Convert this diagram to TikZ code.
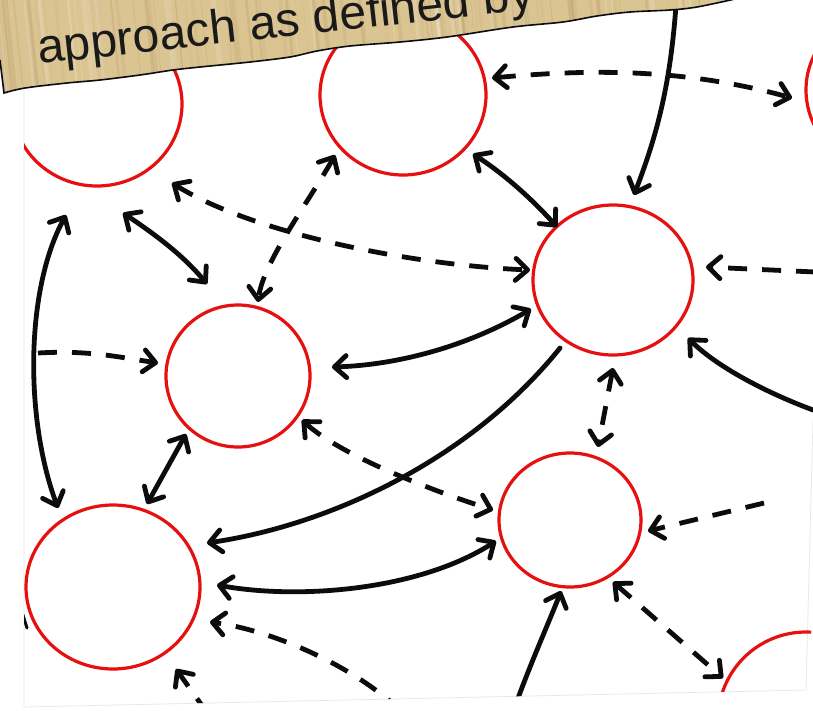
\documentclass[tikz,border=0pt]{standalone}
\usepackage{fontspec}
\setmainfont{Liberation Sans}
\usetikzlibrary{arrows.meta,shapes.geometric,calc}

\definecolor{ringred}{RGB}{230,16,16}
\definecolor{parch}{RGB}{218,197,146}
\definecolor{inkc}{RGB}{12,12,12}
\definecolor{textc}{RGB}{26,26,26}

\tikzset{
  ring/.style={draw=ringred, line width=3.2pt, ellipse, inner sep=0pt},
  tipv/.tip={Straight Barb[length=12pt,width=22pt,round]},
  solidarrow/.style={draw=inkc, line width=4.8pt, line cap=round},
  dasharrow/.style={draw=inkc, line width=4.8pt, dash pattern=on 19pt off 15pt},
  edgeline/.style={draw=gray!18, line width=0.8pt},
}

\begin{document}
\begin{tikzpicture}[x=1pt,y=-1pt]
\useasboundingbox (0,0) rectangle (813,710);
\fill[white] (0,0) rectangle (813,710);

% faint photo edges
\draw[edgeline] (24,90) -- (24,707) -- (806,690) -- (813,420);

\begin{scope}
\clip (24,-10) -- (830,-10) -- (830,420) -- (806,690) -- (24,707) -- cycle;

% circles
\node[ring, minimum width=170pt, minimum height=164pt] (C1) at (97,104) {};
\node[ring, minimum width=166pt, minimum height=160pt] (C2) at (403,95) {};
\node[ring, minimum width=164pt, minimum height=160pt] (C3) at (888,90) {};
\node[ring, minimum width=160pt, minimum height=150pt] (C4) at (613,280) {};
\node[ring, minimum width=144pt, minimum height=142pt] (C5) at (238,376) {};
\node[ring, minimum width=142pt, minimum height=134pt] (C6) at (570,520) {};
\node[ring, minimum width=174pt, minimum height=164pt] (C7) at (113,587) {};
\node[ring, minimum width=176pt, minimum height=176pt] (C8) at (806,720) {};

% free ends
\coordinate (a1s) at (676,5);
\coordinate (a8s) at (38,353);
\coordinate (a14s) at (764,503);
\coordinate (a15s) at (815,272);
\coordinate (a16s) at (813,410);
\coordinate (a19s) at (513,712);
\coordinate (a20s) at (402,712);
\coordinate (a21s) at (208,714);
\coordinate (tk1) at (22,612);
\coordinate (tk2) at (27,628);

% connectors
\draw[solidarrow,-tipv] (a1s) .. controls +(-6,85) and +(21,-55) .. ($(C4)+(21,-85)$);
\draw[dasharrow,tipv-tipv] ($(C2)+(89,-17)$) .. controls +(108,-10) and +(-102,-28) .. ($(C3)+(-96,8)$);
\draw[solidarrow,tipv-tipv] ($(C2)+(70,59)$) .. controls +(31,20) and +(-25,-28) .. ($(C4)+(-56,-53)$);
\draw[dasharrow,tipv-tipv] ($(C2)+(-68,60)$) .. controls +(-25,45) and +(5,-40) .. ($(C5)+(20,-74)$);
\draw[dasharrow,tipv-tipv] ($(C1)+(75,79)$) .. controls +(80,50) and +(-120,-5) .. ($(C4)+(-83,-10)$);
\draw[solidarrow,tipv-tipv] ($(C1)+(26,109)$) .. controls +(30,20) and +(-25,-30) .. ($(C5)+(-31,-92)$);
\draw[solidarrow,tipv-tipv] ($(C1)+(-31,111)$) .. controls +(-41,75) and +(-33,-88) .. ($(C7)+(-55,-79)$);
\draw[dasharrow,-tipv] (a8s) .. controls +(50,-3) and +(-40,-6) .. ($(C5)+(-80,-13)$);
\draw[solidarrow,tipv-tipv] ($(C5)+(94,-9)$) .. controls +(68,-2) and +(-61,36) .. ($(C4)+(-82,29)$);
\draw[solidarrow,tipv-tipv] ($(C5)+(-52,58)$) -- ($(C7)+(34,-83)$);
\draw[solidarrow,-tipv] ($(C4)+(-53,68)$) .. controls +(-90,112) and +(123,-18) .. ($(C7)+(94,-44)$);
\draw[dasharrow,tipv-tipv] ($(C5)+(64,44)$) .. controls +(38,35) and +(-63,-20) .. ($(C6)+(-77,-10)$);
\draw[dasharrow,tipv-tipv] ($(C4)+(0,88)$) -- ($(C6)+(28,-73)$);
\draw[dasharrow,-tipv] (a14s) -- ($(C6)+(78,11)$);
\draw[dasharrow,-tipv] (a15s) -- ($(C4)+(93,-13)$);
\draw[solidarrow,-tipv] (a16s) .. controls +(-51,-19) and +(27,27) .. ($(C4)+(75,58)$);
\draw[solidarrow,tipv-tipv] ($(C7)+(104,-2)$) .. controls +(83,15) and +(-76,49) .. ($(C6)+(-74,21)$);
\draw[dasharrow,tipv-tipv] ($(C6)+(43,62)$) -- ($(C8)+(-83,-42)$);
\draw[solidarrow,-tipv] (a19s) .. controls +(17,-48) and +(-11,29) .. ($(C6)+(-9,71)$);
\draw[dasharrow,-tipv] (a20s) .. controls +(-50,-48) and +(60,8) .. ($(C7)+(97,35)$);
\draw[dasharrow,-tipv] (a21s) -- ($(C7)+(63,82)$);
\draw[solidarrow,line width=3pt] (tk1) -- (tk2);
\end{scope}

% parchment banner
\def\bannerpath{(-5,-5) -- (745,-5) -- plot[smooth,tension=0.55] coordinates {(735,-1) (697,7) (670,10) (630,12) (597,16) (563,22) (513,27) (447,37) (400,42) (350,46) (317,51) (290,57) (250,62) (200,67) (173,70) (140,75) (100,80) (67,83) (25,88) (4,93)} -- (0,60) -- (-5,55) -- cycle}
\fill[parch] \bannerpath;
\begin{scope}
\clip \bannerpath;
\pgfmathsetseed{11}
\foreach \i in {1,...,110}{
  \pgfmathsetmacro\xx{rnd*790-10}
  \pgfmathsetmacro\ww{0.6+rnd*3.5}
  \pgfmathsetmacro\oo{0.03+rnd*0.10}
  \draw[draw=brown!70!black, opacity=\oo, line width=\ww pt] (\xx,-5) -- (\xx+11,100);
}
\foreach \i in {1,...,40}{
  \pgfmathsetmacro\xx{rnd*790-10}
  \pgfmathsetmacro\ww{1+rnd*4}
  \draw[draw=white, opacity=0.14, line width=\ww pt] (\xx,-5) -- (\xx+11,100);
}
\end{scope}
\draw[inkc, line width=1.6pt] plot[smooth,tension=0.55] coordinates {(735,-1) (697,7) (670,10) (630,12) (597,16) (563,22) (513,27) (447,37) (400,42) (350,46) (317,51) (290,57) (250,62) (200,67) (173,70) (140,75) (100,80) (67,83) (25,88) (4,93)} -- (0,60);

\node[anchor=base west, rotate=6.3, text=textc, font=\fontsize{48}{50}\selectfont, inner sep=0pt] (title) at (39,64) {approach as defined by};
\end{tikzpicture}
\end{document}
